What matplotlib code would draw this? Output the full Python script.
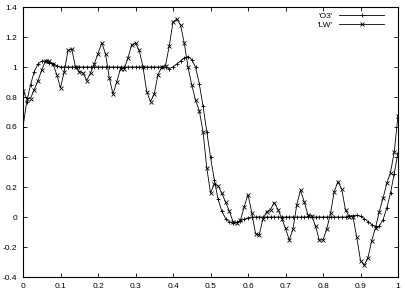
import matplotlib
matplotlib.use("Agg")
import matplotlib.pyplot as plt
from matplotlib.ticker import FuncFormatter, MultipleLocator

# x grid (0.00 .. 1.00 step 0.01)
x_vals = [i / 100 for i in range(101)]

o3_vals = [
    0.60, 0.77, 0.88, 0.97, 1.02, 1.04, 1.04, 1.03, 1.02, 1.01,   # 0.00-0.09
    1.00, 1.00, 1.00, 1.00, 1.00, 1.00, 1.00, 1.00, 1.00, 1.00,   # 0.10-0.19
    1.00, 1.00, 1.00, 1.00, 1.00, 1.00, 1.00, 1.00, 1.00, 1.00,   # 0.20-0.29
    1.00, 1.00, 1.00, 1.00, 1.00, 1.00, 1.00, 1.00, 1.00, 0.99,   # 0.30-0.39
    1.00, 1.02, 1.04, 1.06, 1.07, 1.05, 1.00, 0.89, 0.74, 0.57,   # 0.40-0.49
    0.40, 0.25, 0.12, 0.04, -0.01, -0.03, -0.04, -0.035, -0.025, -0.015,  # 0.50-0.59
    -0.005, 0.00, 0.00, 0.00, 0.00, 0.00, 0.00, 0.00, 0.00, 0.00,  # 0.60-0.69
    0.00, 0.00, 0.00, 0.00, 0.00, 0.00, 0.00, 0.00, 0.00, 0.00,   # 0.70-0.79
    0.00, 0.00, 0.00, 0.00, 0.00, 0.00, 0.00, 0.005, 0.01, 0.012,  # 0.80-0.89
    0.005, -0.01, -0.03, -0.05, -0.065, -0.06, -0.02, 0.06, 0.16, 0.29,  # 0.90-0.99
    0.43,                                                          # 1.00
]

lw_vals = [
    0.84, 0.79, 0.79, 0.85, 0.91, 0.98, 1.04, 1.04, 1.02, 0.95,   # 0.00-0.09
    0.86, 0.97, 1.11, 1.12, 1.00, 0.97, 0.96, 0.91, 0.96, 1.02,   # 0.10-0.19
    1.09, 1.16, 1.09, 0.93, 0.82, 0.90, 0.99, 0.99, 1.06, 1.15,   # 0.20-0.29
    1.16, 1.11, 1.00, 0.835, 0.77, 0.82, 0.95, 1.00, 1.01, 1.14,  # 0.30-0.39
    1.30, 1.32, 1.28, 1.16, 1.00, 0.88, 0.78, 0.71, 0.57, 0.33,   # 0.40-0.49
    0.16, 0.22, 0.21, 0.16, 0.10, 0.04, -0.03, -0.04, -0.02, 0.07,  # 0.50-0.59
    0.15, 0.03, -0.11, -0.12, -0.01, 0.036, 0.05, 0.096, 0.05, -0.01,  # 0.60-0.69
    -0.076, -0.153, -0.08, 0.08, 0.18, 0.10, 0.013, 0.007, -0.06, -0.153,  # 0.70-0.79
    -0.153, -0.08, 0.024, 0.17, 0.236, 0.184, 0.047, 0.002, 0.00, -0.135,  # 0.80-0.89
    -0.29, -0.32, -0.27, -0.158, -0.07, 0.036, 0.124, 0.224, 0.296, 0.435,  # 0.90-0.99
    0.675,                                                          # 1.00
]

series_labels = ["'O3'", "'LW'"]

plt.rcParams['font.family'] = ['Liberation Sans', 'DejaVu Sans']

fig = plt.figure(figsize=(4.05, 2.97), dpi=100)
ax = fig.add_axes([23 / 405, 1 - 277 / 297, 375 / 405, 270 / 297])

ax.plot(x_vals, o3_vals, color='black', lw=0.6, marker='+', ms=3.5, mew=0.6,
        label=series_labels[0])
ax.plot(x_vals, lw_vals, color='black', lw=0.6, marker='x', ms=2.6, mew=0.6,
        label=series_labels[1])

ax.set_xlim(0, 1)
ax.set_ylim(-0.4, 1.4)
ax.xaxis.set_major_locator(MultipleLocator(0.1))
ax.yaxis.set_major_locator(MultipleLocator(0.2))
fmt = FuncFormatter(lambda v, p: "%g" % round(v, 6))
ax.xaxis.set_major_formatter(fmt)
ax.yaxis.set_major_formatter(fmt)
ax.tick_params(direction='in', length=3, width=0.6, labelsize=6,
               top=True, right=True, pad=4, colors='black')
for s in ax.spines.values():
    s.set_linewidth(0.8)

leg = ax.legend(loc='upper right', frameon=False, markerfirst=False,
                fontsize=6, handlelength=5.3, handletextpad=0.8,
                labelspacing=0.1, borderaxespad=0.2,
                bbox_to_anchor=(0.975, 1.0))

fig.savefig("out.png", dpi=100)
